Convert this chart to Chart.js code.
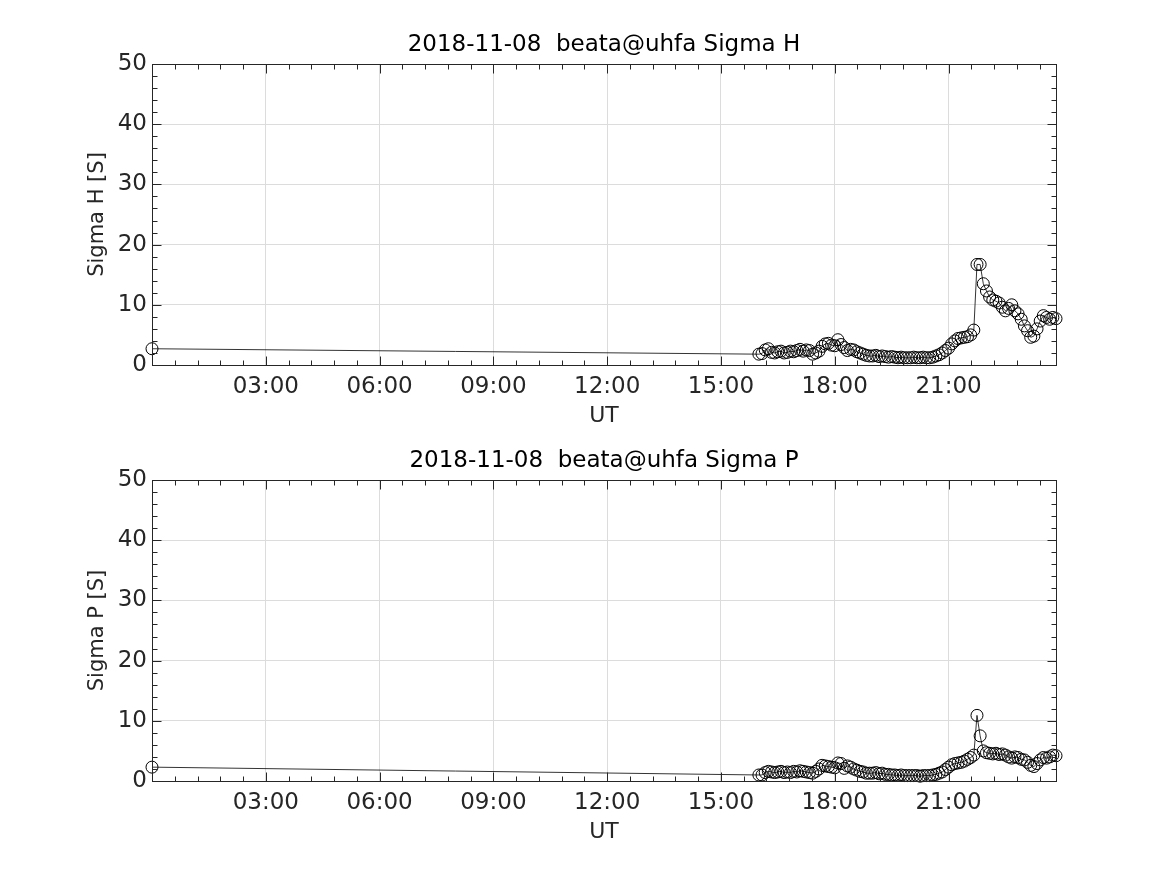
<!DOCTYPE html>
<html>
<head>
<meta charset="utf-8">
<script src="https://cdn.jsdelivr.net/npm/chart.js@4.4.0/dist/chart.umd.min.js"></script>
<style>
  body { margin: 0; background: #fff; }
  .panel { position: absolute; left: 0; width: 1167px; height: 437px; }
</style>
</head>
<body>
<div class="panel" style="top:0px"><canvas id="sigmaH" width="1167" height="437"></canvas></div>
<div class="panel" style="top:416px"><canvas id="sigmaP" width="1167" height="437"></canvas></div>
<script>
// sample times (UT)
var times = ['00:00',
  '16:00','16:05','16:10','16:15','16:20','16:25','16:30','16:35','16:40','16:45','16:50','16:55',
  '17:00','17:05','17:10','17:15','17:20','17:25','17:30','17:35','17:40','17:45','17:50','17:55',
  '18:00','18:05','18:10','18:15','18:20','18:25','18:30','18:35','18:40','18:45','18:50','18:55',
  '19:00','19:05','19:10','19:15','19:20','19:25','19:30','19:35','19:40','19:45','19:50','19:55',
  '20:00','20:05','20:10','20:15','20:20','20:25','20:30','20:35','20:40','20:45','20:50','20:55',
  '21:00','21:05','21:10','21:15','21:20','21:25','21:30','21:35','21:40','21:45','21:50','21:55',
  '22:00','22:05','22:10','22:15','22:20','22:25','22:30','22:35','22:40','22:45','22:50','22:55',
  '23:00','23:05','23:10','23:15','23:20','23:25','23:30','23:35','23:40','23:45','23:50'];

var sigmaH = [2.7,
  1.8, 1.9, 2.5, 2.7, 2.1, 2.0, 2.2, 2.3, 2.0, 2.1, 2.3, 2.2,
  2.4, 2.6, 2.3, 2.5, 2.4, 1.8, 2.0, 2.3, 3.1, 3.5, 3.6, 3.3,
  3.2, 4.2, 3.4, 2.9, 2.4, 2.6, 2.5, 2.2, 2.0, 1.8, 1.6, 1.5,
  1.5, 1.6, 1.4, 1.5, 1.4, 1.3, 1.4, 1.3, 1.2, 1.3, 1.2, 1.2,
  1.2, 1.3, 1.2, 1.2, 1.3, 1.2, 1.2, 1.3, 1.5, 1.7, 2.0, 2.4,
  2.8, 3.5, 4.0, 4.4, 4.5, 4.6, 4.7, 5.0, 5.8, 16.7, 16.7, 13.5,
  12.3, 11.3, 10.8, 10.6, 10.3, 9.6, 9.0, 9.4, 10.0, 9.0, 8.5, 7.6,
  6.5, 5.7, 4.6, 4.8, 6.0, 7.3, 8.2, 7.9, 7.6, 7.9, 7.7];

var sigmaP = [2.3,
  1.0, 1.0, 1.4, 1.6, 1.5, 1.4, 1.5, 1.6, 1.4, 1.5, 1.4, 1.6,
  1.5, 1.7, 1.6, 1.5, 1.4, 1.3, 1.6, 2.0, 2.6, 2.5, 2.4, 2.3,
  2.2, 3.0, 2.9, 2.1, 2.5, 2.3, 2.0, 1.8, 1.6, 1.5, 1.3, 1.3,
  1.3, 1.4, 1.2, 1.3, 1.1, 1.1, 1.0, 1.0, 0.9, 1.0, 0.9, 0.9,
  0.9, 0.9, 0.9, 0.8, 0.9, 0.9, 0.9, 1.0, 1.1, 1.3, 1.5, 1.9,
  2.3, 2.7, 2.9, 3.0, 3.1, 3.3, 3.6, 3.9, 4.3, 10.9, 7.5, 5.0,
  4.7, 4.6, 4.5, 4.6, 4.4, 4.5, 4.3, 4.0, 3.8, 4.0, 3.9, 3.6,
  3.5, 3.1, 2.6, 2.4, 2.9, 3.5, 3.9, 3.8, 4.0, 4.3, 4.2];

var xTickHours = [3, 6, 9, 12, 15, 18, 21];
var xTickLabels = ['03:00', '06:00', '09:00', '12:00', '15:00', '18:00', '21:00'];
var yMin = 0, yMax = 50, yStep = 10;

var FONT = 'DejaVu Sans';
var TXT = '#262626';

function toHours(t) {
  var p = t.split(':');
  return Number(p[0]) + Number(p[1]) / 60;
}

// MATLAB style box with inward major/minor ticks on all sides
var boxPlugin = {
  id: 'matlabBox',
  afterDraw: function(chart) {
    var ctx = chart.ctx, a = chart.chartArea;
    var xs = chart.scales.x, ys = chart.scales.y;
    var L = Math.round(a.left) + 0.5, R = Math.round(a.right) + 0.5;
    var T = Math.round(a.top) + 0.5, B = Math.round(a.bottom) + 0.5;
    ctx.save();
    ctx.strokeStyle = TXT;
    ctx.lineWidth = 1;
    ctx.beginPath();
    for (var i = 1; i * 0.6 < xs.max; i++) {
      var h = i * 0.6;
      var major = Math.abs(h / 3 - Math.round(h / 3)) < 1e-6;
      var len = major ? 9 : 5;
      var px = Math.round(xs.getPixelForValue(h)) + 0.5;
      ctx.moveTo(px, B); ctx.lineTo(px, B - len);
      ctx.moveTo(px, T); ctx.lineTo(px, T + len);
    }
    for (var v = yMin + 2; v < yMax; v += 2) {
      var len2 = (v % yStep === 0) ? 9 : 5;
      var py = Math.round(ys.getPixelForValue(v)) + 0.5;
      ctx.moveTo(L, py); ctx.lineTo(L + len2, py);
      ctx.moveTo(R, py); ctx.lineTo(R - len2, py);
    }
    ctx.stroke();
    ctx.strokeRect(L, T, R - L, B - T);
    ctx.restore();
  }
};

function makeChart(id, values, titleText, yLabel) {
  var pts = times.map(function(t, i) { return { x: toHours(t), y: values[i] }; });
  return new Chart(document.getElementById(id), {
    type: 'scatter',
    data: {
      datasets: [{
        data: pts,
        showLine: true,
        borderColor: '#000',
        borderWidth: 0.8,
        pointStyle: 'circle',
        pointRadius: 6,
        pointHoverRadius: 6,
        pointBackgroundColor: 'rgba(0,0,0,0)',
        pointBorderColor: '#000',
        pointBorderWidth: 1,
        clip: false
      }]
    },
    plugins: [boxPlugin],
    options: {
      responsive: false,
      animation: false,
      devicePixelRatio: 1,
      layout: { padding: { left: 0, right: 111, top: 0, bottom: 0 } },
      plugins: {
        legend: { display: false },
        tooltip: { enabled: false },
        title: {
          display: true,
          text: titleText,
          fullSize: false,
          color: '#000',
          font: { family: FONT, size: 23, weight: 'normal' },
          padding: { top: 31, bottom: 5.4 }
        }
      },
      scales: {
        x: {
          type: 'linear',
          min: 0,
          max: toHours(times[times.length - 1]),
          afterBuildTicks: function(scale) {
            scale.ticks = xTickHours.map(function(h) { return { value: h }; });
          },
          afterFit: function(scale) { scale.height = 72; },
          ticks: {
            autoSkip: false,
            maxRotation: 0,
            padding: 8,
            color: TXT,
            font: { family: FONT, size: 23 },
            callback: function(v) {
              var k = xTickHours.indexOf(v);
              return k >= 0 ? xTickLabels[k] : '';
            }
          },
          grid: { color: '#dcdcdc', drawTicks: false },
          border: { display: false },
          title: {
            display: true,
            text: 'UT',
            color: TXT,
            font: { family: FONT, size: 22 },
            padding: { top: 0, bottom: 8 }
          }
        },
        y: {
          min: yMin,
          max: yMax,
          afterFit: function(scale) { scale.width = 152; },
          ticks: {
            stepSize: yStep,
            padding: 5,
            color: TXT,
            font: { family: FONT, size: 23 }
          },
          grid: { color: '#dcdcdc', drawTicks: false },
          border: { display: false },
          title: {
            display: true,
            text: yLabel,
            color: TXT,
            font: { family: FONT, size: 21 },
            padding: { top: 85, bottom: 0 }
          }
        }
      }
    }
  });
}

makeChart('sigmaH', sigmaH, '2018-11-08  beata@uhfa Sigma H', 'Sigma H [S]');
makeChart('sigmaP', sigmaP, '2018-11-08  beata@uhfa Sigma P', 'Sigma P [S]');
</script>
</body>
</html>
